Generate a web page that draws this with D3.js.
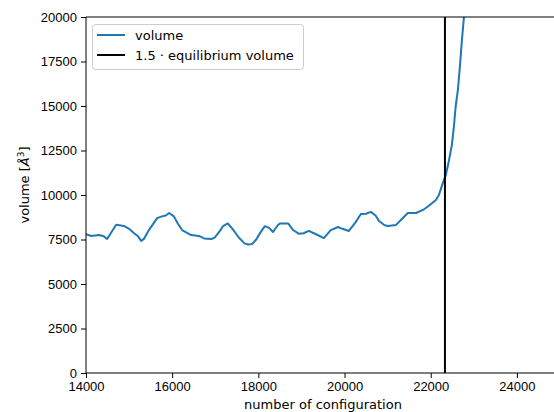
<!DOCTYPE html>
<html>
<head>
<meta charset="utf-8">
<script src="https://cdn.jsdelivr.net/npm/d3@7"></script>
<style>
  body { margin: 0; background: #fff; }
  svg { display: block; font-family: "DejaVu Sans", sans-serif; }
  .axis text { font-size: 13px; fill: #000; }
  .axis line { stroke: #000; stroke-width: 1; }
  .axis path { display: none; }
</style>
</head>
<body>
<div id="chart"></div>
<script>
// configuration index and volume
var configs = [14000, 14120, 14300, 14400, 14490, 14600, 14700, 14880, 15000, 15110,
  15200, 15280, 15350, 15460, 15650, 15760, 15850, 15930, 16040, 16130,
  16230, 16440, 16620, 16740, 16920, 16990, 17100, 17180, 17290, 17400,
  17550, 17680, 17760, 17860, 17950, 18050, 18150, 18250, 18340, 18450,
  18500, 18690, 18800, 18940, 19050, 19170, 19350, 19520, 19600, 19680,
  19850, 19950, 20100, 20250, 20380, 20500, 20610, 20720, 20800, 20930,
  21010, 21190, 21330, 21470, 21660, 21820, 21950, 22120, 22190, 22270,
  22350, 22420, 22490, 22540, 22580, 22630, 22680, 22720, 22760, 22800, 22850];
var volumes = [7800, 7700, 7750, 7700, 7530, 7950, 8330, 8260, 8100, 7870,
  7700, 7420, 7550, 8030, 8700, 8800, 8850, 8990, 8800, 8400,
  8030, 7750, 7700, 7560, 7530, 7620, 7950, 8250, 8400, 8100,
  7600, 7280, 7220, 7250, 7500, 7900, 8250, 8150, 7920, 8300,
  8400, 8400, 8050, 7820, 7850, 7980, 7780, 7580, 7800, 8030,
  8200, 8100, 7980, 8450, 8930, 8950, 9050, 8850, 8540, 8300,
  8260, 8310, 8650, 8990, 8990, 9160, 9380, 9720, 10000, 10600,
  11120, 11900, 12800, 13900, 15000, 15900, 17300, 18600, 19700, 20800, 22500];
var thresholdConfig = 22330;   // 1.5 * equilibrium volume reached here
var xTicks = [14000, 16000, 18000, 20000, 22000, 24000];
var yTicks = [0, 2500, 5000, 7500, 10000, 12500, 15000, 17500, 20000];
var legendLabels = ["volume", "1.5 \u00b7 equilibrium volume"];

var width = 554;
var height = 412;
// plot area (right edge sits just past the window)
var plotLeft = 86, plotRight = 560, plotTop = 17, plotBottom = 373;

var x = d3.scaleLinear().domain([14000, 25000]).range([plotLeft, plotRight]);
var y = d3.scaleLinear().domain([0, 20000]).range([plotBottom, plotTop]);

var svg = d3.select("#chart").append("svg")
  .attr("width", width)
  .attr("height", height);

svg.append("clipPath").attr("id", "clip")
  .append("rect")
  .attr("x", plotLeft).attr("y", plotTop)
  .attr("width", plotRight - plotLeft).attr("height", plotBottom - plotTop);

// data line
var line = d3.line()
  .x(function(d, i) { return x(configs[i]); })
  .y(function(d) { return y(d); });

svg.append("path")
  .datum(volumes)
  .attr("clip-path", "url(#clip)")
  .attr("d", line)
  .attr("fill", "none")
  .attr("stroke", "#1f77b4")
  .attr("stroke-width", 2)
  .attr("stroke-linejoin", "round");

// vertical threshold line
svg.append("line")
  .attr("x1", x(thresholdConfig)).attr("x2", x(thresholdConfig))
  .attr("y1", y(0)).attr("y2", y(20000))
  .attr("stroke", "#000")
  .attr("stroke-width", 2);

// axes
svg.append("g")
  .attr("class", "axis")
  .attr("transform", "translate(0," + plotBottom + ")")
  .call(d3.axisBottom(x).tickValues(xTicks).tickFormat(d3.format("d"))
    .tickSize(5).tickPadding(4).tickSizeOuter(0));

svg.append("g")
  .attr("class", "axis")
  .attr("transform", "translate(" + plotLeft + ",0)")
  .call(d3.axisLeft(y).tickValues(yTicks).tickFormat(d3.format("d"))
    .tickSize(5).tickPadding(4).tickSizeOuter(0));

// spines (right one falls outside the window)
svg.append("path")
  .attr("d", "M" + plotLeft + "," + plotTop + "V" + plotBottom + "H" + plotRight + "V" + plotTop + "Z")
  .attr("fill", "none")
  .attr("stroke", "#000")
  .attr("stroke-width", 1);

// axis labels
svg.append("text")
  .attr("x", (plotLeft + plotRight) / 2)
  .attr("y", 409)
  .attr("text-anchor", "middle")
  .style("font-size", "13px")
  .text("number of configuration");

var ylab = svg.append("text")
  .attr("transform", "translate(29,185) rotate(-90)")
  .attr("text-anchor", "middle")
  .style("font-size", "13px");
ylab.append("tspan").text("volume [");
ylab.append("tspan").style("font-style", "italic").text("\u00c5");
ylab.append("tspan").attr("dy", -5).style("font-size", "9px").text("3");
ylab.append("tspan").attr("dy", 5).text("]");

// legend
var legend = svg.append("g");
legend.append("rect")
  .attr("x", 92.5).attr("y", 24.5)
  .attr("width", 211).attr("height", 45)
  .attr("rx", 3)
  .attr("fill", "#fff")
  .attr("fill-opacity", 0.8)
  .attr("stroke", "#ccc");

var colors = ["#1f77b4", "#000"];
legend.selectAll(".entry")
  .data(legendLabels)
  .enter()
  .append("g")
  .attr("class", "entry")
  .each(function(d, i) {
    var g = d3.select(this);
    var yy = 35 + i * 20;
    g.append("line")
      .attr("x1", 97).attr("x2", 125)
      .attr("y1", yy).attr("y2", yy)
      .attr("stroke", colors[i])
      .attr("stroke-width", 2);
    g.append("text")
      .attr("x", 135).attr("y", yy + 5)
      .style("font-size", "13px")
      .text(d);
  });
</script>
</body>
</html>
